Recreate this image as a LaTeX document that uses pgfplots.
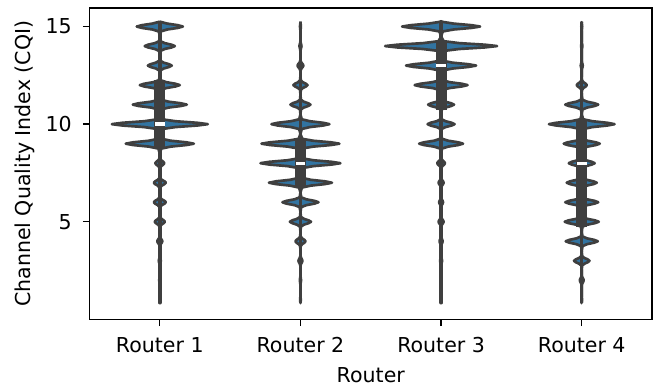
\documentclass[border=0pt]{standalone}
\usepackage{fontspec}
\setmainfont{DejaVu Sans}
\usepackage{pgfplots}
\usepackage{pgfplotstable}
\pgfplotsset{compat=1.18}
\definecolor{vblue}{HTML}{3274A1}
\definecolor{vgray}{HTML}{3F3F3F}
% half-width profile of each violin (f = shape factor of a peak, w1..w4 = peak half-width at that CQI level)
\pgfplotstableread{
y f w1 w2 w3 w4
0.85 0 0 0 0 0
0.93 0.78 0.002 0.002 0.002 0.002
1.00 1 0.002 0.002 0.002 0.002
1.07 0.78 0.002 0.002 0.002 0.002
1.15 0.325 0.002 0.002 0.002 0.002
1.25 0.044 0.002 0.002 0.002 0.002
1.50 0 0 0 0 0
1.75 0.044 0.004 0.004 0.004 0.014
1.85 0.325 0.004 0.004 0.004 0.014
1.93 0.78 0.004 0.004 0.004 0.014
2.00 1 0.004 0.004 0.004 0.014
2.07 0.78 0.004 0.004 0.004 0.014
2.15 0.325 0.004 0.004 0.004 0.014
2.25 0.044 0.004 0.004 0.004 0.014
2.50 0 0 0 0 0
2.75 0.044 0.007 0.014 0.007 0.055
2.85 0.325 0.007 0.014 0.007 0.055
2.93 0.78 0.007 0.014 0.007 0.055
3.00 1 0.007 0.014 0.007 0.055
3.07 0.78 0.007 0.014 0.007 0.055
3.15 0.325 0.007 0.014 0.007 0.055
3.25 0.044 0.007 0.014 0.007 0.055
3.50 0 0 0 0 0
3.75 0.044 0.018 0.036 0.011 0.114
3.85 0.325 0.018 0.036 0.011 0.114
3.93 0.78 0.018 0.036 0.011 0.114
4.00 1 0.018 0.036 0.011 0.114
4.07 0.78 0.018 0.036 0.011 0.114
4.15 0.325 0.018 0.036 0.011 0.114
4.25 0.044 0.018 0.036 0.011 0.114
4.50 0 0 0 0 0
4.75 0.044 0.036 0.075 0.018 0.121
4.85 0.325 0.036 0.075 0.018 0.121
4.93 0.78 0.036 0.075 0.018 0.121
5.00 1 0.036 0.075 0.018 0.121
5.07 0.78 0.036 0.075 0.018 0.121
5.15 0.325 0.036 0.075 0.018 0.121
5.25 0.044 0.036 0.075 0.018 0.121
5.50 0 0 0 0 0
5.75 0.044 0.043 0.128 0.014 0.117
5.85 0.325 0.043 0.128 0.014 0.117
5.93 0.78 0.043 0.128 0.014 0.117
6.00 1 0.043 0.128 0.014 0.117
6.07 0.78 0.043 0.128 0.014 0.117
6.15 0.325 0.043 0.128 0.014 0.117
6.25 0.044 0.043 0.128 0.014 0.117
6.50 0 0 0 0 0
6.75 0.044 0.043 0.224 0.018 0.107
6.85 0.325 0.043 0.224 0.018 0.107
6.93 0.78 0.043 0.224 0.018 0.107
7.00 1 0.043 0.224 0.018 0.107
7.07 0.78 0.043 0.224 0.018 0.107
7.15 0.325 0.043 0.224 0.018 0.107
7.25 0.044 0.043 0.224 0.018 0.107
7.50 0 0 0 0 0
7.75 0.044 0.032 0.284 0.028 0.092
7.85 0.325 0.032 0.284 0.028 0.092
7.93 0.78 0.032 0.284 0.028 0.092
8.00 1 0.032 0.284 0.028 0.092
8.07 0.78 0.032 0.284 0.028 0.092
8.15 0.325 0.032 0.284 0.028 0.092
8.25 0.044 0.032 0.284 0.028 0.092
8.50 0 0 0 0 0
8.75 0.044 0.242 0.277 0.156 0.128
8.85 0.325 0.242 0.277 0.156 0.128
8.93 0.78 0.242 0.277 0.156 0.128
9.00 1 0.242 0.277 0.156 0.128
9.07 0.78 0.242 0.277 0.156 0.128
9.15 0.325 0.242 0.277 0.156 0.128
9.25 0.044 0.242 0.277 0.156 0.128
9.50 0 0 0 0 0
9.75 0.044 0.341 0.206 0.096 0.233
9.85 0.325 0.341 0.206 0.096 0.233
9.93 0.78 0.341 0.206 0.096 0.233
10.00 1 0.341 0.206 0.096 0.233
10.07 0.78 0.341 0.206 0.096 0.233
10.15 0.325 0.341 0.206 0.096 0.233
10.25 0.044 0.341 0.206 0.096 0.233
10.50 0 0 0 0 0
10.75 0.044 0.192 0.071 0.092 0.117
10.85 0.325 0.192 0.071 0.092 0.117
10.93 0.78 0.192 0.071 0.092 0.117
11.00 1 0.192 0.071 0.092 0.117
11.07 0.78 0.192 0.071 0.092 0.117
11.15 0.325 0.192 0.071 0.092 0.117
11.25 0.044 0.192 0.071 0.092 0.117
11.50 0 0 0 0 0
11.75 0.044 0.142 0.050 0.188 0.036
11.85 0.325 0.142 0.050 0.188 0.036
11.93 0.78 0.142 0.050 0.188 0.036
12.00 1 0.142 0.050 0.188 0.036
12.07 0.78 0.142 0.050 0.188 0.036
12.15 0.325 0.142 0.050 0.188 0.036
12.25 0.044 0.142 0.050 0.188 0.036
12.50 0 0 0 0 0
12.75 0.044 0.085 0.021 0.249 0.007
12.85 0.325 0.085 0.021 0.249 0.007
12.93 0.78 0.085 0.021 0.249 0.007
13.00 1 0.085 0.021 0.249 0.007
13.07 0.78 0.085 0.021 0.249 0.007
13.15 0.325 0.085 0.021 0.249 0.007
13.25 0.044 0.085 0.021 0.249 0.007
13.50 0 0 0 0 0
13.75 0.044 0.107 0.007 0.398 0.004
13.85 0.325 0.107 0.007 0.398 0.004
13.93 0.78 0.107 0.007 0.398 0.004
14.00 1 0.107 0.007 0.398 0.004
14.07 0.78 0.107 0.007 0.398 0.004
14.15 0.325 0.107 0.007 0.398 0.004
14.25 0.044 0.107 0.007 0.398 0.004
14.50 0 0 0 0 0
14.75 0.044 0.164 0.003 0.277 0.003
14.85 0.325 0.164 0.003 0.277 0.003
14.93 0.78 0.164 0.003 0.277 0.003
15.00 1 0.164 0.003 0.277 0.003
15.07 0.78 0.164 0.003 0.277 0.003
15.15 0.325 0.164 0.003 0.277 0.003
15.25 0 0 0 0 0
}\prof
\begin{document}
\begin{tikzpicture}
\path[use as bounding box] (-67.1pt,-52.3pt) rectangle (427.1pt,239.5pt);
\begin{axis}[
  anchor=south west, at={(0pt,0pt)},
  scale only axis, width=421.9pt, height=233.5pt,
  xmin=-0.5, xmax=3.5, ymin=0, ymax=15.95,
  xtick={0,1,2,3}, xticklabels={Router 1,Router 2,Router 3,Router 4},
  ytick={5,10,15},
  tick pos=left, tick align=outside, major tick length=5pt,
  every tick/.style={line width=1pt, black},
  axis line style={line width=1pt},
  /pgf/number format/assume math mode=true,
  ticklabel style={font=\fontsize{15.4}{18}\selectfont, inner sep=0pt},
  yticklabel style={anchor=east, xshift=-8.1pt},
  xticklabel style={anchor=north, yshift=-8.05pt},
  xlabel={Router}, ylabel={Channel Quality Index (CQI)},
  label style={font=\fontsize{15.4}{18}\selectfont, inner sep=0pt},
  xlabel style={at={(axis description cs:0.5,-0.1523)}, anchor=north},
  ylabel style={at={(axis description cs:-0.1324,0.5)}, anchor=north, rotate=0},
  clip=false,
]
% violins: right and left halves
\pgfplotsinvokeforeach{1,2,3,4}{%
  \addplot[fill=vblue, draw=vgray, line width=2pt, line join=round] table[x expr={#1-1+\thisrow{f}*\thisrow{w#1}}, y=y] {\prof};
  \addplot[fill=vblue, draw=vgray, line width=2pt, line join=round] table[x expr={#1-1-\thisrow{f}*\thisrow{w#1}}, y=y] {\prof};
}
% whisker / center lines
\addplot[vgray, line width=2.6pt, line cap=round] coordinates {(0,0.85) (0,15.2)};
\addplot[vgray, line width=2.6pt, line cap=round] coordinates {(1,0.85) (1,15.1)};
\addplot[vgray, line width=2.6pt, line cap=round] coordinates {(2,0.85) (2,15.25)};
\addplot[vgray, line width=2.6pt, line cap=round] coordinates {(3,0.85) (3,15.2)};
% interquartile boxes
\addplot[vgray, line width=8.3pt, line cap=rect] coordinates {(0,9) (0,12)};
\addplot[vgray, line width=8.3pt, line cap=rect] coordinates {(1,7) (1,9)};
\addplot[vgray, line width=8.3pt, line cap=rect] coordinates {(2,11) (2,14)};
\addplot[vgray, line width=8.3pt, line cap=rect] coordinates {(3,5) (3,10)};
% medians
\addplot[only marks, mark=-, mark size=3.6pt, white, mark options={line width=2.5pt}] coordinates {(0,10) (1,8) (2,13) (3,8)};
\end{axis}
\end{tikzpicture}
\end{document}
